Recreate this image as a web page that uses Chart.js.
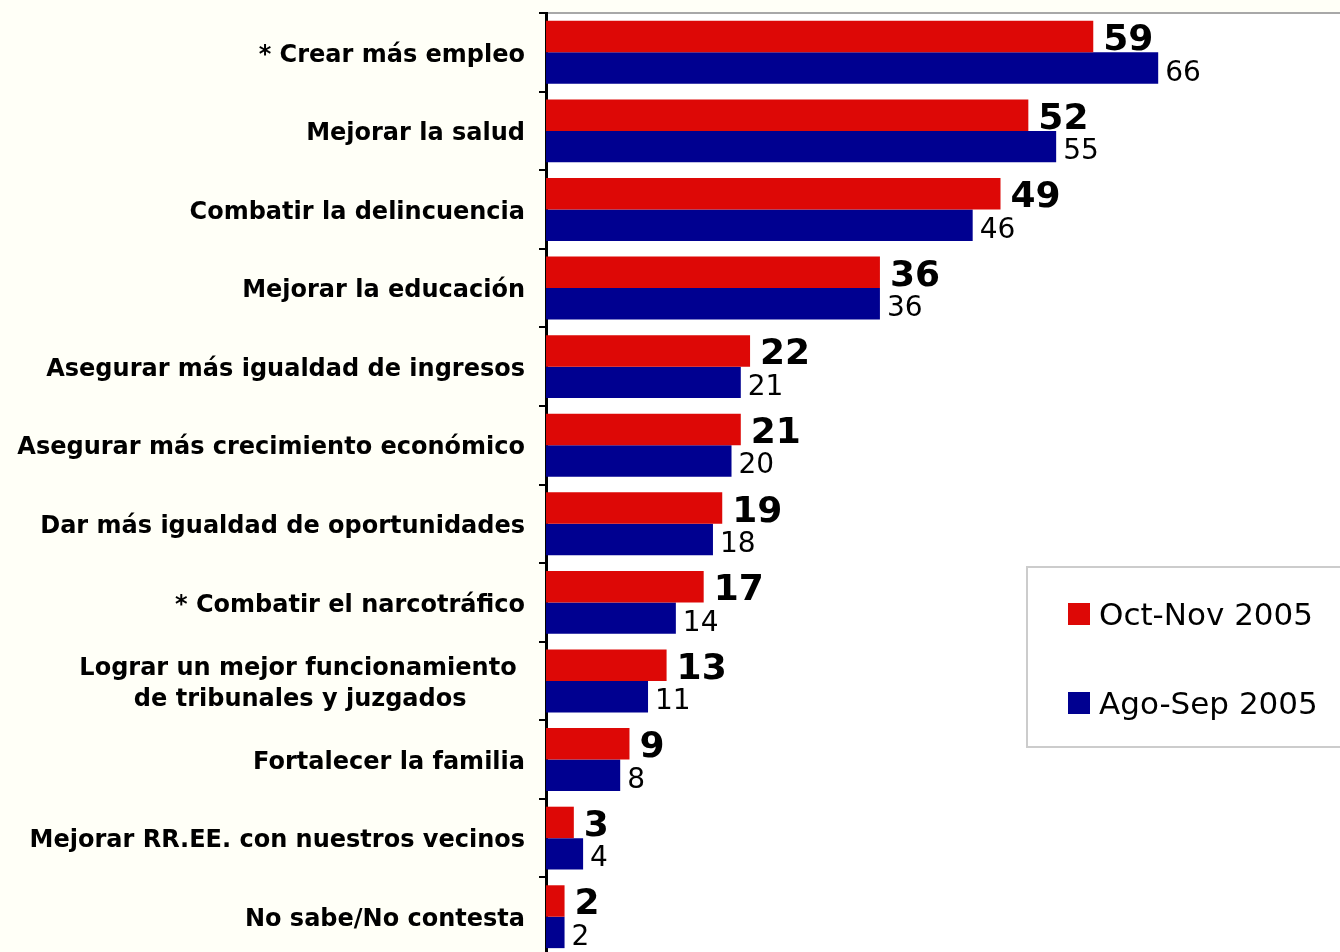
<!DOCTYPE html>
<html>
<head>
<meta charset="utf-8">
<script src="https://cdn.jsdelivr.net/npm/chart.js@4.4.1/dist/chart.umd.min.js"></script>
<style>
    body{
        margin:0;
        overflow:hidden;
        background-color:#fffff7;
    }
    #chart_container{
        position:absolute;
        left:0;
        top:0;
        width:1340px;
        height:957px;
    }
</style>
</head>
<body>
<div id="chart_container"><canvas id="chartjs"></canvas></div>

<script>
// categorias y valores
var categorias = [
    "* Crear más empleo",
    "Mejorar la salud",
    "Combatir la delincuencia",
    "Mejorar la educación",
    "Asegurar más igualdad de ingresos",
    "Asegurar más crecimiento económico",
    "Dar más igualdad de oportunidades",
    "* Combatir el narcotráfico",
    ["Lograr un mejor funcionamiento ", "de tribunales y juzgados       "],
    "Fortalecer la familia",
    "Mejorar RR.EE. con nuestros vecinos",
    "No sabe/No contesta"
];
var serie_oct_nov = [59, 52, 49, 36, 22, 21, 19, 17, 13, 9, 3, 2];
var serie_ago_sep = [66, 55, 46, 36, 21, 20, 18, 14, 11, 8, 4, 2];
var label_oct_nov = "Oct-Nov 2005";
var label_ago_sep = "Ago-Sep 2005";

var rojo = "#dd0806";
var azul = "#000090";

// fondo crema, area del grafico blanca, linea gris arriba
var fondo = {
    id: "fondo",
    beforeDraw: function(chart){
        var ctx = chart.ctx, a = chart.chartArea;
        ctx.save();
        ctx.fillStyle = "#fffff7";
        ctx.fillRect(0, 0, chart.width, chart.height);
        ctx.fillStyle = "#ffffff";
        ctx.fillRect(a.left, a.top, a.right - a.left, a.bottom - a.top);
        ctx.strokeStyle = "#a8a8a8";
        ctx.lineWidth = 2;
        ctx.beginPath();
        ctx.moveTo(a.left, a.top);
        ctx.lineTo(a.right, a.top);
        ctx.stroke();
        ctx.restore();
    }
};

// numeros al final de cada barra
var valores = {
    id: "valores",
    afterDatasetsDraw: function(chart){
        var ctx = chart.ctx;
        ctx.save();
        ctx.textAlign = "left";
        ctx.textBaseline = "alphabetic";
        ctx.fillStyle = "#000000";
        chart.data.datasets.forEach(function(ds, i){
            var meta = chart.getDatasetMeta(i);
            meta.data.forEach(function(bar, j){
                if(i == 0){
                    ctx.font = "bold 36px 'DejaVu Sans'";
                    ctx.fillText(ds.data[j], bar.x + 10, bar.y + 13.5);
                }else{
                    ctx.font = "28px 'DejaVu Sans'";
                    ctx.fillText(ds.data[j], bar.x + 7, bar.y + 12.5);
                }
            });
        });
        ctx.restore();
    }
};

// leyenda en caja, a la derecha
var leyenda = {
    id: "leyenda",
    afterDraw: function(chart){
        var ctx = chart.ctx;
        ctx.save();
        ctx.fillStyle = "#ffffff";
        ctx.fillRect(1027, 567, 330, 180);
        ctx.strokeStyle = "#cccccc";
        ctx.lineWidth = 2;
        ctx.strokeRect(1027, 567, 330, 180);
        ctx.font = "31px 'DejaVu Sans'";
        ctx.textBaseline = "alphabetic";
        chart.data.datasets.forEach(function(ds, i){
            var y = 603 + i * 89;
            ctx.fillStyle = ds.backgroundColor;
            ctx.fillRect(1068, y, 22, 22);
            ctx.fillStyle = "#000000";
            ctx.fillText(ds.label, 1099, y + 22);
        });
        ctx.restore();
    }
};

var graph = new Chart(document.getElementById("chartjs"), {
    type: "bar",
    data: {
        labels: categorias,
        datasets: [
            {label: label_oct_nov, data: serie_oct_nov, backgroundColor: rojo,
             categoryPercentage: 0.8, barPercentage: 1.0},
            {label: label_ago_sep, data: serie_ago_sep, backgroundColor: azul,
             categoryPercentage: 0.8, barPercentage: 1.0}
        ]
    },
    options: {
        indexAxis: "y",
        responsive: true,
        maintainAspectRatio: false,
        animation: false,
        layout: {padding: {top: 13, right: 0, bottom: 1, left: 0}},
        plugins: {
            legend: {display: false},
            tooltip: {enabled: false}
        },
        scales: {
            x: {
                display: false,
                min: 0,
                max: 85.6
            },
            y: {
                z: 1,
                afterFit: function(scale){
                    scale.width = 546;
                    scale.paddingTop = 0;
                    scale.paddingBottom = 0;
                },
                grid: {
                    offset: true,
                    drawOnChartArea: false,
                    drawTicks: true,
                    tickLength: 7,
                    color: "#000000",
                    lineWidth: 2
                },
                border: {display: true, color: "#000000", width: 3},
                ticks: {
                    padding: 14,
                    labelOffset: 3,
                    color: "#000000",
                    font: {family: "'DejaVu Sans'", weight: "bold", size: 24, lineHeight: 1.3}
                }
            }
        }
    },
    plugins: [fondo, valores, leyenda]
});
</script>
</body>
</html>
